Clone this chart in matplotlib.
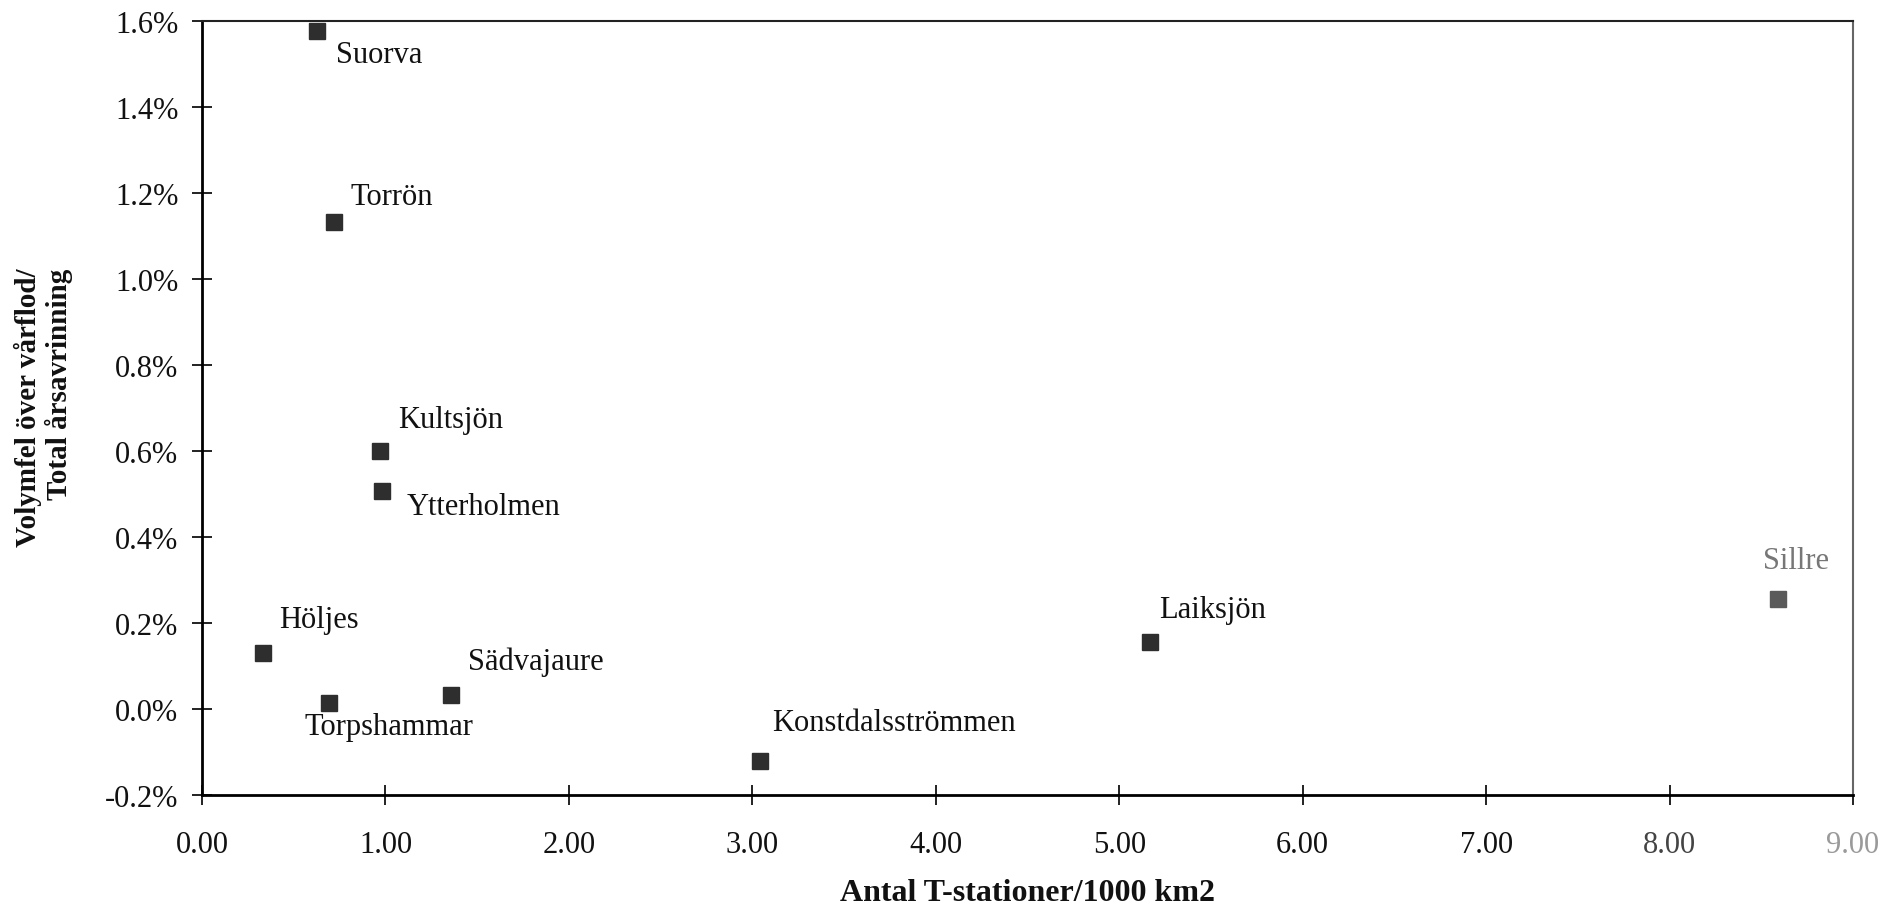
import matplotlib
matplotlib.use("Agg")
import matplotlib.pyplot as plt
from matplotlib.ticker import FixedLocator, FuncFormatter

# Stations: temperature-station density vs. volume error over spring flood
stations = ["Suorva", "Torrön", "Kultsjön", "Ytterholmen", "Höljes",
            "Torpshammar", "Sädvajaure", "Konstdalsströmmen", "Laiksjön", "Sillre"]
density = [0.625, 0.72, 0.97, 0.98, 0.33, 0.69, 1.36, 3.04, 5.17, 8.59]   # per 1000 km2
vol_error = [1.576, 1.133, 0.599, 0.508, 0.130, 0.014, 0.033, -0.122, 0.155, 0.256]  # %

# label offsets (pixels from the marker, text baseline / left edge)
label_dx = [19, 16, 18, 25, 17, -24, 17, 12, 9, -15]
label_dy = [-31, 18, 24, -23, 26, -31, 26, 31, 25, 31]

x_ticks = [0, 1, 2, 3, 4, 5, 6, 7, 8, 9]
y_ticks = [-0.2, 0.0, 0.2, 0.4, 0.6, 0.8, 1.0, 1.2, 1.4, 1.6]

plt.rcParams["font.family"] = ["Liberation Serif", "DejaVu Serif"]

fig = plt.figure(figsize=(19.03, 9.20), dpi=100)
ax = fig.add_axes([202 / 1903, 1 - 796 / 920, (1853 - 202) / 1903, (796 - 22) / 920])

for i, (x, y) in enumerate(zip(density, vol_error)):
    mcol = "#5a5a5a" if stations[i] == "Sillre" else "#2e2e2e"
    ax.plot(x, y, marker="s", markersize=11, color=mcol, linestyle="none")
    tcol = "#777777" if stations[i] == "Sillre" else "#111111"
    ax.annotate(stations[i], (x, y), xytext=(label_dx[i], label_dy[i]),
                textcoords="offset pixels", ha="left", va="baseline",
                fontsize=22, color=tcol)

ax.set_xlim(0, 9)
ax.set_ylim(-0.2, 1.6)
ax.xaxis.set_major_locator(FixedLocator(x_ticks))
ax.yaxis.set_major_locator(FixedLocator(y_ticks))
ax.xaxis.set_major_formatter(FuncFormatter(lambda v, p: f"{v:.2f}"))
ax.yaxis.set_major_formatter(FuncFormatter(lambda v, p: f"{round(v, 1) + 0.0:.1f}%"))

ax.tick_params(axis="both", direction="inout", length=14, width=1.3,
               labelsize=22, colors="#111111")
ax.tick_params(axis="y", pad=10)
ax.tick_params(axis="x", pad=18)
ax.tick_params(top=False, right=False)

for lab in ax.get_xticklabels():
    if lab.get_text() == "8.00":
        lab.set_color("#444444")
    elif lab.get_text() == "9.00":
        lab.set_color("#9a9a9a")

ax.spines["left"].set_linewidth(2.0)
ax.spines["bottom"].set_linewidth(2.0)
ax.spines["top"].set_linewidth(1.5)
ax.spines["top"].set_color("#222222")
ax.spines["right"].set_linewidth(1.5)
ax.spines["right"].set_color("#666666")

ax.set_xlabel("Antal T-stationer/1000 km2", fontsize=23, fontweight="bold",
              labelpad=14, color="#111111")

# two-line y-axis title
fig.text(28 / 1903, 1 - 408 / 920, "Volymfel över vårflod/", rotation=90,
         ha="center", va="center", fontsize=21, fontweight="bold", color="#111111")
fig.text(59 / 1903, 1 - 384 / 920, "Total årsavrinning", rotation=90,
         ha="center", va="center", fontsize=21, fontweight="bold", color="#111111")

fig.savefig("out.png", dpi=100, facecolor="white")
